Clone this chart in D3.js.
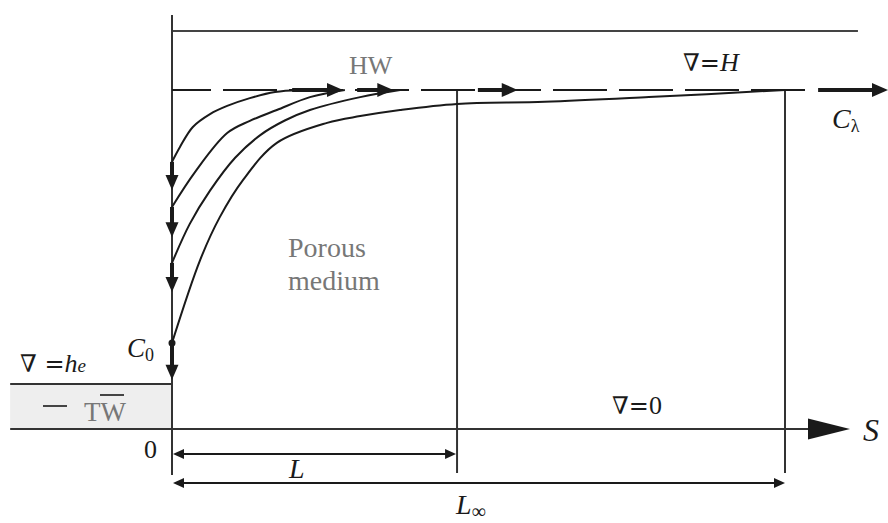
<!DOCTYPE html>
<html><head><meta charset="utf-8">
<script src="https://cdn.jsdelivr.net/npm/d3@7/dist/d3.min.js"></script>
<style>
html,body{margin:0;padding:0;background:#fff;}
svg{display:block;font-family:"Liberation Serif","Times New Roman",serif;}
.nab{font-family:"DejaVu Serif","Liberation Serif",serif;}
</style></head>
<body>
<svg id="chart" width="888" height="523"></svg>
<script>
// ---- data (S along flow, head as % of H; S as % of L_inf) ----
const Lval = 46.5;           // L position
const Linf = 100;            // L_inf position
const Hval = 100;            // upstream head H
const heVal = 13.3;          // tailwater head h_e
const topBound = 117.4;      // upper boundary line
// streamlines (S, head)
const curve1S = [0, 1.3, 3.4, 6.2, 9.0, 12.7, 16.8, 20.9];
const curve1H = [78.8, 83.2, 89.1, 92.9, 95.3, 97.6, 99.4, 100];
const curve2S = [0, 3.75, 9.0, 12.7, 17.1, 22.5, 28.2];
const curve2H = [65.5, 75.8, 87.3, 90.9, 94.1, 97.9, 100];
const curve3S = [0, 2.9, 6.2, 10.3, 14.4, 18.4, 22.5, 30.7, 37.2];
const curve3H = [49.0, 60.5, 70.3, 80.0, 86.7, 91.0, 94.1, 97.9, 100];
const curve4S = [0, 4.6, 7.8, 11.6, 17.1, 25.3, 30.7, 37.2, 46.5, 60.8, 77.8, 100];
const curve4H = [25.4, 49.9, 62.5, 73.5, 84.4, 90.3, 92.3, 94.1, 95.9, 96.5, 97.9, 100];
// flow arrows on the upstream boundary (S from, S to)
const hwArrowFrom = [19.6, 30.2, 49.9, 105.4];
const hwArrowTo   = [27.9, 36.1, 56.4, 116.8];
// exit arrows on the downstream face (head from, head to)
const exitFrom = [78.8, 65.5, 49.0, 25.4];
const exitTo   = [70.5, 56.6, 40.4, 14.5];
const labels = {HW:"HW", H:"H", C0:"C", Cl:"C", porous1:"Porous", porous2:"medium", zero:"0", L:"L", Linf:"L", S:"S", TW:"TW"};

// ---- scales ----
const x = d3.scaleLinear().domain([0, 100]).range([172, 785]);
const y = d3.scaleLinear().domain([0, 100]).range([429, 90]);
const svg = d3.select("#chart");
const ink = "#1a1a1a";
const gray = "#777";

function tri(tipX, tipY, dir, len, hw) {
  let pts;
  if (dir === "r") pts = [[tipX, tipY], [tipX - len, tipY - hw], [tipX - len, tipY + hw]];
  else if (dir === "l") pts = [[tipX, tipY], [tipX + len, tipY - hw], [tipX + len, tipY + hw]];
  else pts = [[tipX, tipY], [tipX - hw, tipY - len], [tipX + hw, tipY - len]];
  svg.append("path").attr("d", d3.line()(pts) + "Z").attr("fill", ink);
}
function seg(x1, y1, x2, y2, w, c, dash, off) {
  const l = svg.append("line").attr("x1", x1).attr("y1", y1).attr("x2", x2).attr("y2", y2)
    .attr("stroke", c || ink).attr("stroke-width", w || 2);
  if (dash) l.attr("stroke-dasharray", dash).attr("stroke-dashoffset", off || 0);
  return l;
}

// tailwater box
svg.append("rect").attr("x", x(-26.4)).attr("y", y(heVal)).attr("width", x(0) - x(-26.4))
  .attr("height", y(0) - y(heVal)).attr("fill", "#eeeeee");
seg(x(-26.4), y(heVal), x(0), y(heVal), 2, "#333");

// upper boundary
seg(x(0), y(topBound), x(111.9), y(topBound), 2, "#444");
// S axis
seg(x(-26.4), y(0), x(106), y(0), 2, "#333");
tri(x(110.6), y(0), "r", 42, 10.5);
// vertical axis
seg(x(0), y(122.1), x(0), y(-13.6), 2, "#333");
// verticals at L and L_inf
seg(x(Lval), y(Hval), x(Lval), y(-13.0), 2, "#333");
seg(x(Linf), y(Hval), x(Linf), y(-13.0), 2, "#333");

// dashed upstream head line
seg(x(0), y(Hval), x(105), y(Hval), 2.2, ink, "54,12", 15);
hwArrowFrom.forEach((s, i) => {
  const e = hwArrowTo[i];
  seg(x(s), y(Hval), x(e) - 10, y(Hval), 4, ink);
  tri(x(e), y(Hval), "r", 16, 7);
});

// streamlines
const line = d3.line().x(d => x(d[0])).y(d => y(d[1])).curve(d3.curveCatmullRom.alpha(0.5));
[[curve1S, curve1H], [curve2S, curve2H], [curve3S, curve3H], [curve4S, curve4H]].forEach(([S, Hh]) => {
  svg.append("path").datum(S.map((s, i) => [s, Hh[i]])).attr("d", line)
    .attr("fill", "none").attr("stroke", ink).attr("stroke-width", 2);
});

// exit arrows
exitFrom.forEach((h, i) => {
  seg(x(0), y(h), x(0), y(exitTo[i]) - 10, 4, ink);
  tri(x(0), y(exitTo[i]), "d", 15, 6.5);
});
svg.append("circle").attr("cx", x(0)).attr("cy", y(exitFrom[3])).attr("r", 3.5).attr("fill", ink);

// dimension arrows
const dimL = -7.4, dimLinf = -15.9;
seg(x(0) + 8, y(dimL), x(Lval) - 8, y(dimL), 2, ink);
tri(x(0) + 1, y(dimL), "l", 11, 5);
tri(x(Lval) - 1, y(dimL), "r", 11, 5);
seg(x(0) + 8, y(dimLinf), x(Linf) - 8, y(dimLinf), 2, ink);
tri(x(0) + 1, y(dimLinf), "l", 11, 5);
tri(x(Linf), y(dimLinf), "r", 11, 5);

// ---- text ----
function txt(px, py, size, color) {
  return svg.append("text").attr("x", px).attr("y", py).attr("font-size", size).attr("fill", color || ink);
}
txt(349, 74, 26, gray).text(labels.HW);
const tH = txt(683, 71, 26);
tH.append("tspan").attr("class", "nab").attr("font-size", 24).text("∇=");
tH.append("tspan").attr("font-style", "italic").text(labels.H);
const tCl = txt(832, 128, 28);
tCl.append("tspan").attr("font-style", "italic").text(labels.Cl);
tCl.append("tspan").attr("font-size", 18).attr("dy", 4).text("λ");
txt(288, 257, 28, gray).text(labels.porous1);
txt(288, 290, 28, gray).text(labels.porous2);
const tC0 = txt(127, 357, 27);
tC0.append("tspan").attr("font-style", "italic").text(labels.C0);
tC0.append("tspan").attr("font-size", 18).attr("dy", 4).text("0");
const the = txt(20, 372, 26);
the.append("tspan").attr("class", "nab").attr("font-size", 24).text("∇ =");
the.append("tspan").attr("font-style", "italic").text("h");
the.append("tspan").attr("font-style", "italic").attr("font-size", 19).text("e");
// tailwater label
seg(43, 406, 67, 406, 2, "#444");
txt(84, 421, 27, gray).text(labels.TW);
seg(100, 395, 124, 395, 2, "#444");
txt(144, 458, 26).text(labels.zero);
const t0 = txt(612, 414, 26);
t0.append("tspan").attr("class", "nab").attr("font-size", 24).text("∇=");
t0.append("tspan").text("0");
txt(863, 441, 32).attr("font-style", "italic").text(labels.S);
txt(289, 478, 28).attr("font-style", "italic").text(labels.L);
const tLinf = txt(456, 514, 28);
tLinf.append("tspan").attr("font-style", "italic").text(labels.Linf);
tLinf.append("tspan").attr("font-size", 20).attr("dy", 4).text("∞");
</script>
</body></html>
